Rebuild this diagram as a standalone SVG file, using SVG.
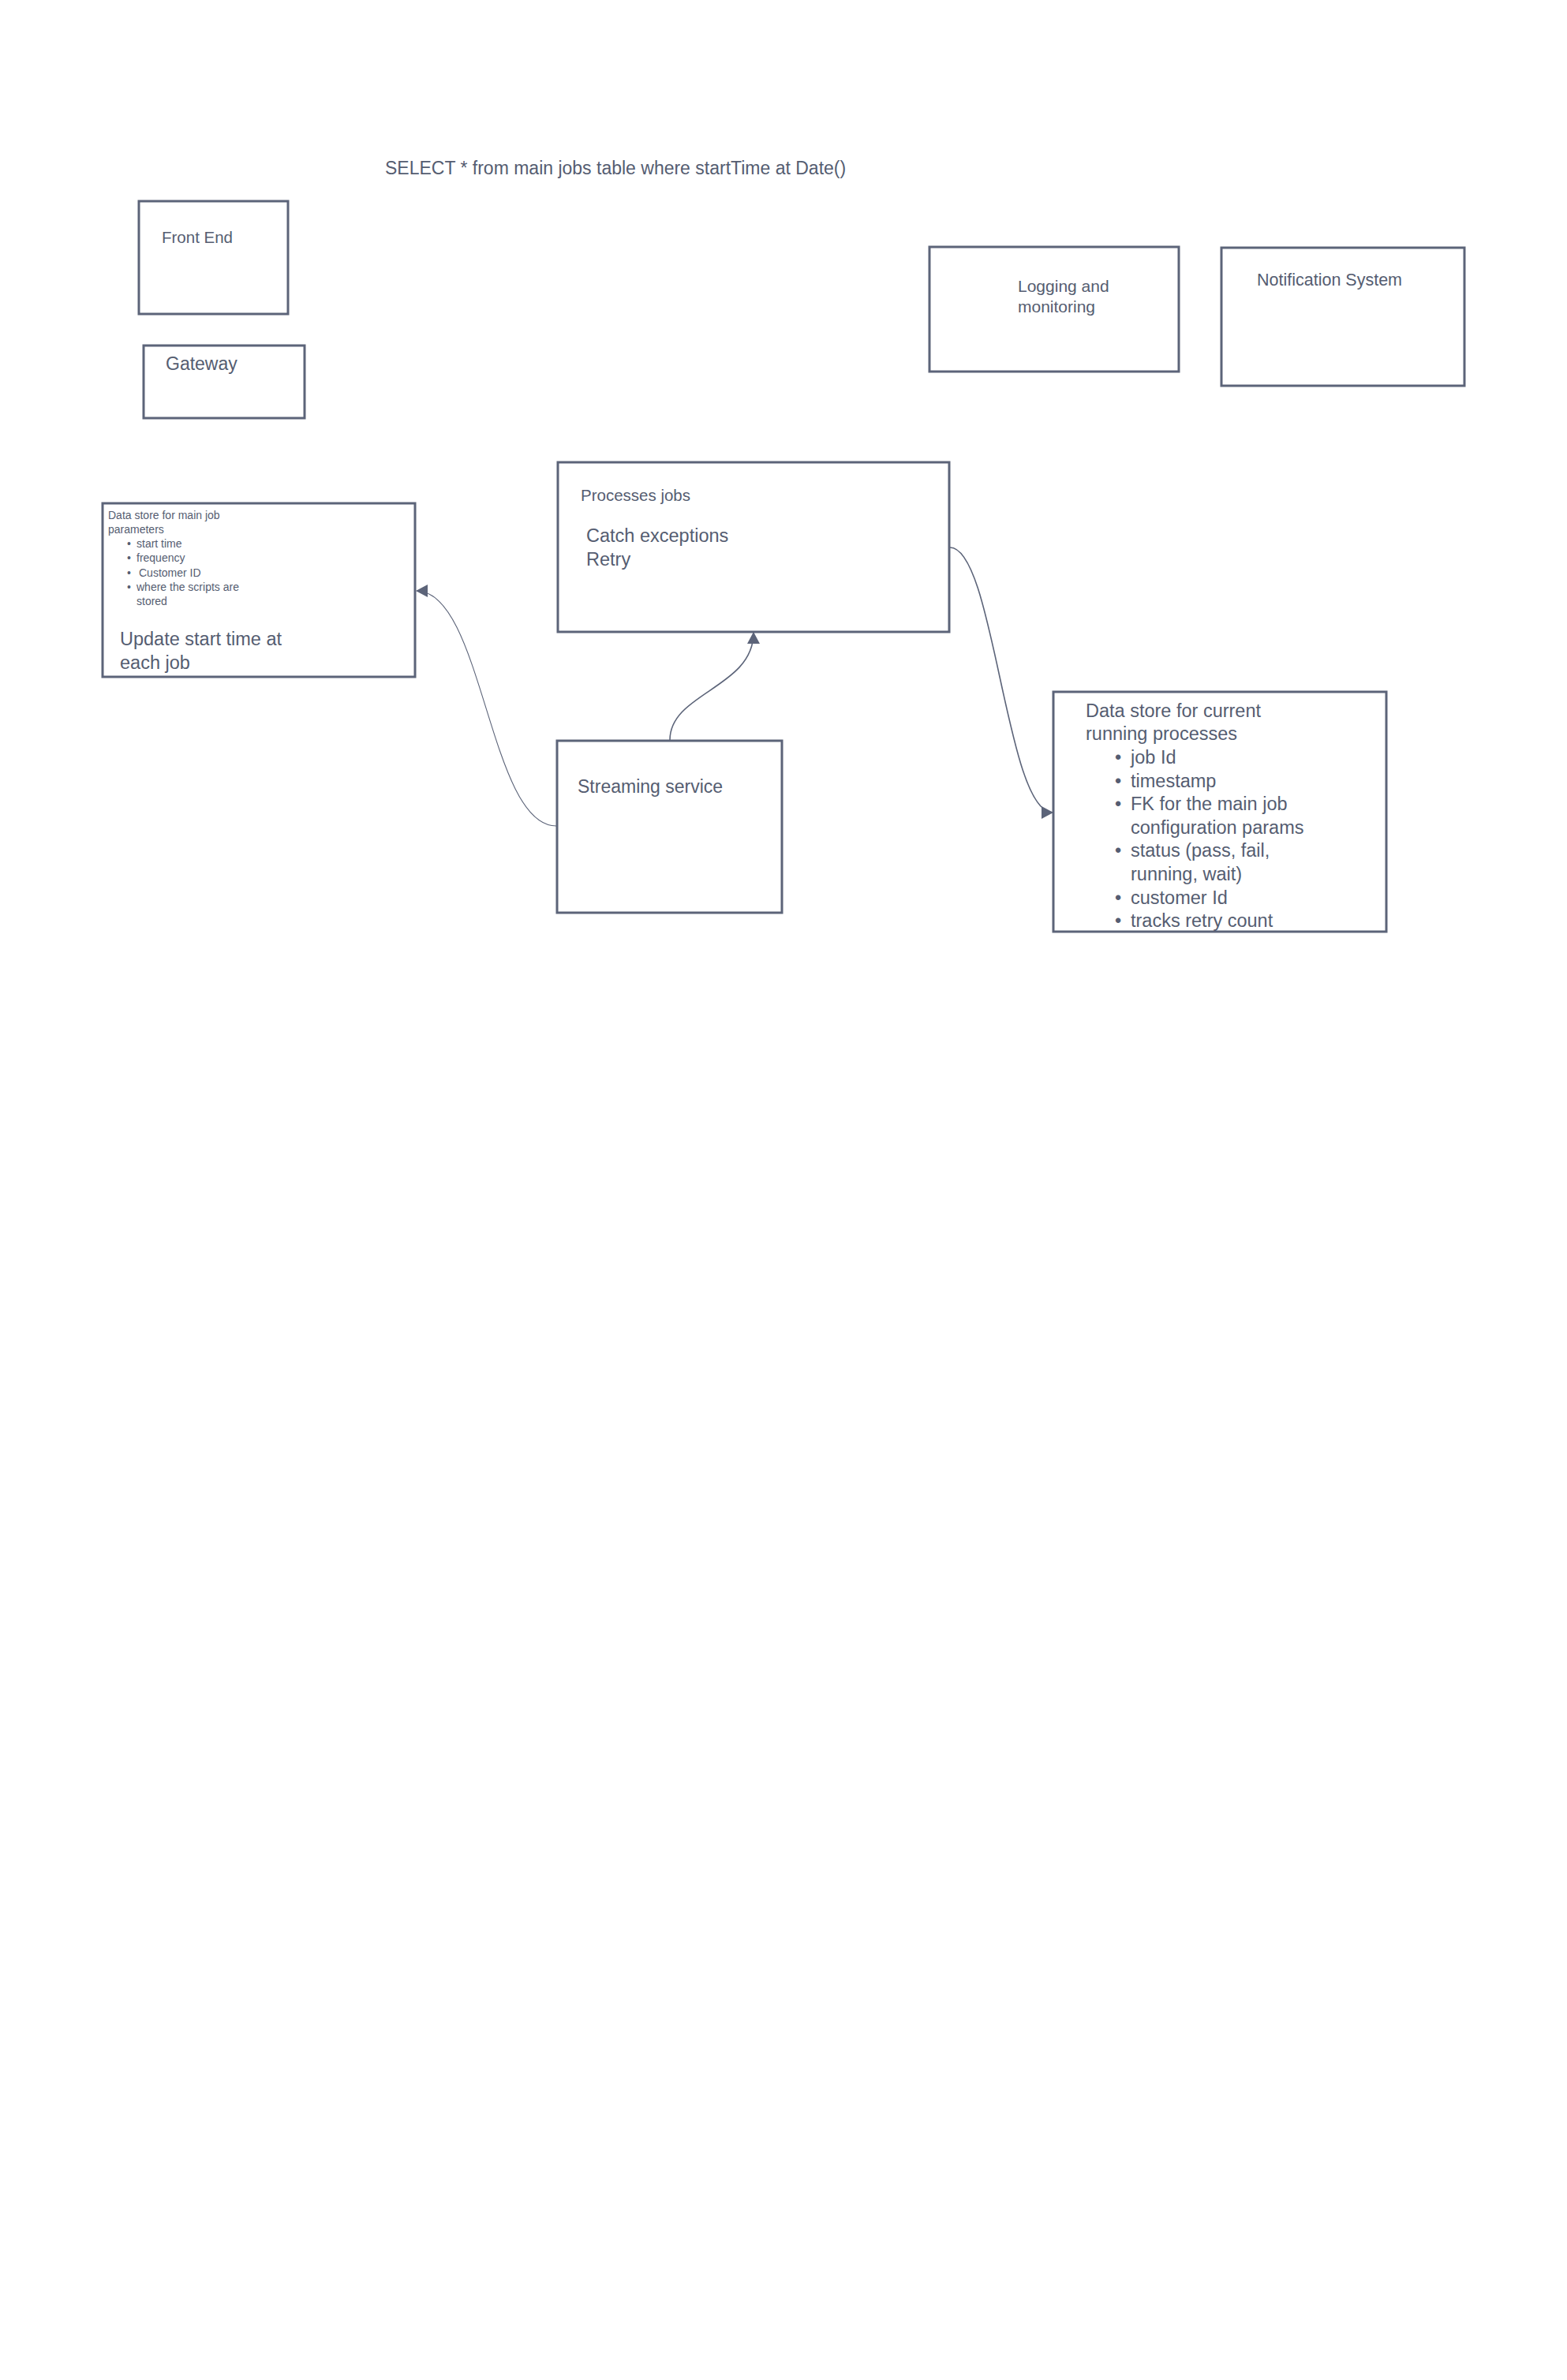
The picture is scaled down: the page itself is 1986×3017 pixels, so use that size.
<svg xmlns="http://www.w3.org/2000/svg" width="1986" height="3017" viewBox="0 0 1986 3017">
  <style>
    .box { fill: #ffffff; stroke: #5c6479; stroke-width: 3; }
    .t { font-family: "Liberation Sans", Arial, sans-serif; fill: #555d71; }
    .link { fill: none; stroke: #5c6479; stroke-width: 1.6; }
    .thin { stroke-width: 1.1; }
  </style>
  <defs>
    <marker id="arrow" markerWidth="16" markerHeight="18" refX="14" refY="9" orient="auto" markerUnits="userSpaceOnUse">
      <path d="M0,1 L15,9 L0,17 Z" fill="#5c6479"/>
    </marker>
  </defs>

  <rect width="1986" height="3017" fill="#ffffff"/>

  <text class="t" x="488" y="221" font-size="23">SELECT * from main jobs table where startTime at Date()</text>

  <g id="front-end">
    <rect class="box" x="176" y="255" width="189" height="143"/>
    <text class="t" x="205" y="308" font-size="20.5">Front End</text>
  </g>

  <g id="gateway">
    <rect class="box" x="182" y="438" width="204" height="92"/>
    <text class="t" x="210" y="469" font-size="23">Gateway</text>
  </g>

  <g id="logging">
    <rect class="box" x="1178" y="313" width="316" height="158"/>
    <text class="t" x="1290" y="370" font-size="21">Logging and</text>
    <text class="t" x="1290" y="396" font-size="21">monitoring</text>
  </g>

  <g id="notification">
    <rect class="box" x="1548" y="314" width="308" height="175"/>
    <text class="t" x="1593" y="362" font-size="21.5">Notification System</text>
  </g>

  <g id="job-params-store">
    <rect class="box" x="130" y="638" width="396" height="220"/>
    <g class="t" font-size="14">
      <text x="137" y="658">Data store for main job</text>
      <text x="137" y="676">parameters</text>
      <text x="161" y="694">•</text><text x="173" y="694">start time</text>
      <text x="161" y="712">•</text><text x="173" y="712">frequency</text>
      <text x="161" y="731">•</text><text x="176" y="731">Customer ID</text>
      <text x="161" y="749">•</text><text x="173" y="749">where the scripts are</text>
      <text x="173" y="767">stored</text>
    </g>
    <text class="t" x="152" y="818" font-size="23.5">Update start time at</text>
    <text class="t" x="152" y="848" font-size="23.5">each job</text>
  </g>

  <g id="job-processor">
    <rect class="box" x="707" y="586" width="496" height="215"/>
    <text class="t" x="736" y="635" font-size="20.5">Processes jobs</text>
    <text class="t" x="743" y="687" font-size="23.5">Catch exceptions</text>
    <text class="t" x="743" y="717" font-size="23.5">Retry</text>
  </g>

  <g id="streaming-service">
    <rect class="box" x="706" y="939" width="285" height="218"/>
    <text class="t" x="732" y="1005" font-size="23">Streaming service</text>
  </g>

  <g id="running-store">
    <rect class="box" x="1335" y="877" width="422" height="304"/>
    <g class="t" font-size="23.5">
      <text x="1376" y="909">Data store for current</text>
      <text x="1376" y="938">running processes</text>
      <text x="1413" y="968">•</text><text x="1433" y="968">job Id</text>
      <text x="1413" y="998">•</text><text x="1433" y="998">timestamp</text>
      <text x="1413" y="1027">•</text><text x="1433" y="1027">FK for the main job</text>
      <text x="1433" y="1057">configuration params</text>
      <text x="1413" y="1086">•</text><text x="1433" y="1086">status (pass, fail,</text>
      <text x="1433" y="1116">running, wait)</text>
      <text x="1413" y="1146">•</text><text x="1433" y="1146">customer Id</text>
      <text x="1413" y="1175">•</text><text x="1433" y="1175">tracks retry count</text>
    </g>
  </g>

  <g id="connectors">
    <path class="link thin" d="M705,1047 C620,1047 612,749 528,749" marker-end="url(#arrow)"/>
    <path class="link" d="M849,938 C849,878 955,872 955,802" marker-end="url(#arrow)"/>
    <path class="link" d="M1204,694 C1260,694 1275,1030 1334,1030" marker-end="url(#arrow)"/>
  </g>
</svg>
